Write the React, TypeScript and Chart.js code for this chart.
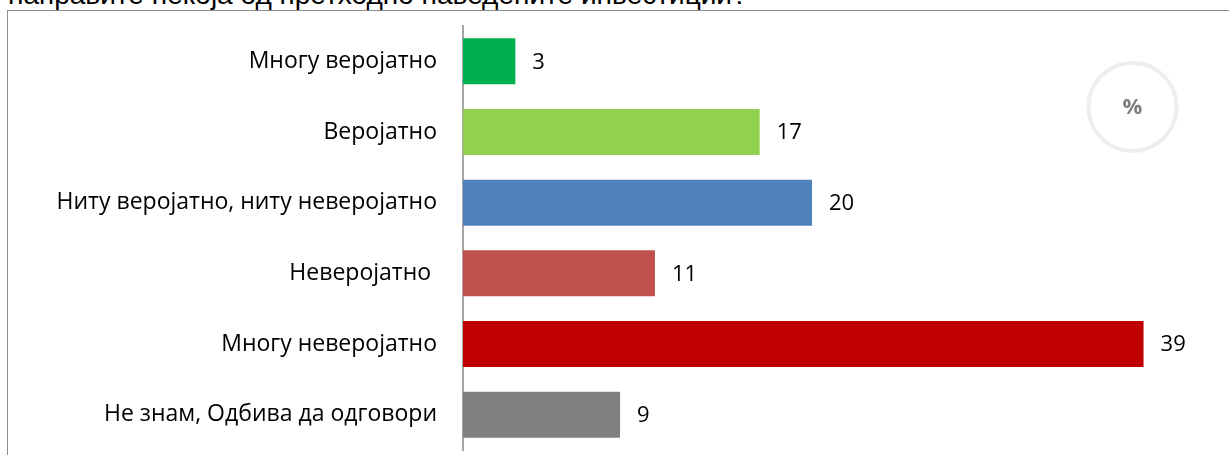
import React, { useEffect, useRef } from "react";
import { Chart, registerables } from "chart.js";

Chart.register(...registerables);

const titleText = "направите некоја од претходно наведените инвестиции?";
const categories = [
  "Многу веројатно",
  "Веројатно",
  "Ниту веројатно, ниту неверојатно",
  "Неверојатно ",
  "Многу неверојатно",
  "Не знам, Одбива да одговори",
];
const values = [3, 17, 20, 11, 39, 9];
const barColors = ["#00B050", "#92D050", "#4F81BD", "#C0504D", "#C00000", "#808080"];
const unitLabel = "%";

const W = 1229;
const H = 455;

export default function App() {
  const ref = useRef<HTMLCanvasElement | null>(null);

  useEffect(() => {
    if (!ref.current) return;

    const valueLabels = {
      id: "valueLabels",
      afterDatasetsDraw(chart: any) {
        const ctx = chart.ctx;
        const meta = chart.getDatasetMeta(0);
        ctx.save();
        ctx.font = "22px 'Open Sans'";
        ctx.fillStyle = "#000000";
        ctx.textAlign = "left";
        ctx.textBaseline = "middle";
        meta.data.forEach((el: any, i: number) => {
          ctx.fillText(String(values[i]), el.x + 17, el.y + 1);
        });
        ctx.restore();
      },
    };

    const unitBadge = {
      id: "unitBadge",
      afterDraw(chart: any) {
        const ctx = chart.ctx;
        ctx.save();
        ctx.beginPath();
        ctx.arc(1132.5, 107, 44, 0, Math.PI * 2);
        ctx.strokeStyle = "#eeeeee";
        ctx.lineWidth = 4;
        ctx.stroke();
        ctx.font = "bold 22px 'Open Sans'";
        ctx.fillStyle = "#7f7f7f";
        ctx.textAlign = "center";
        ctx.textBaseline = "middle";
        ctx.fillText(unitLabel, 1132.5, 108);
        ctx.restore();
      },
    };

    const chart = new Chart(ref.current, {
      type: "bar",
      data: {
        labels: categories,
        datasets: [
          {
            data: values,
            backgroundColor: barColors,
            borderWidth: 0,
            barPercentage: 0.65,
            categoryPercentage: 1,
          },
        ],
      },
      options: {
        indexAxis: "y",
        responsive: false,
        animation: false,
        layout: { padding: { left: 0, right: 68, top: 26, bottom: 5 } },
        plugins: {
          legend: { display: false },
          tooltip: { enabled: false },
          title: { display: false },
        },
        scales: {
          x: {
            display: false,
            min: 0,
            max: 40,
          },
          y: {
            afterFit(scale: any) {
              scale.width = 463;
              scale.paddingTop = 0;
              scale.paddingBottom = 0;
            },
            grid: { display: true, drawOnChartArea: false, drawTicks: false },
            border: { display: true, color: "#a6a6a6", width: 2 },
            ticks: {
              padding: 26,
              color: "#000000",
              font: { family: "'Open Sans'", size: 23 },
            },
          },
        },
      },
      plugins: [valueLabels, unitBadge],
    });

    return () => chart.destroy();
  }, []);

  return (
    <div style={{ position: "absolute", left: 0, top: 0, width: W, height: H, overflow: "hidden", background: "#fff" }}>
      <div
        style={{
          position: "absolute",
          left: 7,
          top: 10,
          width: 1300,
          height: 600,
          borderLeft: "1.5px solid #8c8c8c",
          borderTop: "1.5px solid #8c8c8c",
        }}
      />
      <div
        style={{
          position: "absolute",
          left: 8,
          top: -19,
          fontFamily: "'Liberation Sans', Arial, sans-serif",
          fontSize: 28,
          lineHeight: "28px",
          whiteSpace: "nowrap",
          color: "#000",
        }}
      >
        {titleText}
      </div>
      <canvas ref={ref} width={W} height={H} style={{ position: "absolute", left: 0, top: 0 }} />
    </div>
  );
}
